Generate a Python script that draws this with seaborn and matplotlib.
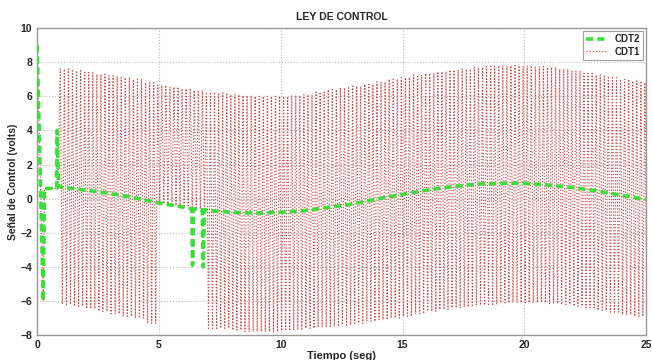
import numpy as np
import matplotlib
matplotlib.use("Agg")
import matplotlib.pyplot as plt
import seaborn as sns

# CDT2 control signal (time, volts)
cdt2_t = [0.0, 0.25, 0.3, 0.8, 0.82, 0.88, 2.0, 3.0, 4.0, 5.0, 6.0, 6.35, 6.38, 6.42,
          6.78, 6.82, 6.86, 7.5, 8.0, 9.0, 10.0, 11.0, 12.0, 13.0, 14.0, 15.0, 16.0,
          17.0, 18.0, 19.0, 20.0, 21.0, 22.0, 23.0, 24.0, 25.0]
cdt2_u = [9.0, -6.0, 0.6, 0.6, 4.0, 0.7, 0.5, 0.3, 0.05, -0.25, -0.5, -0.6, -3.9, -0.6,
          -0.65, -4.0, -0.65, -0.75, -0.8, -0.85, -0.8, -0.7, -0.5, -0.3, 0.0, 0.25, 0.5,
          0.7, 0.85, 0.9, 0.9, 0.8, 0.65, 0.45, 0.2, -0.05]

# CDT1 start-up before chattering
cdt1_start_t = [0.0, 0.25, 0.3, 0.85]
cdt1_start_u = [9.0, -6.0, 0.6, 0.6]

# CDT1 chattering: upper and lower peaks read in 0.5 s windows starting at t = 0.95
cdt1_hi = [7.6, 7.5, 7.4, 7.3, 7.2, 7.1, 7.0, 6.8, 6.65, 6.55, 6.45, 6.35, 6.25, 6.2,
           6.1, 6.05, 6.0, 6.0, 6.0, 6.05, 6.1, 6.25, 6.4, 6.5, 6.6, 6.7, 6.85, 7.0,
           7.1, 7.25, 7.35, 7.45, 7.55, 7.6, 7.7, 7.75, 7.8, 7.8, 7.8, 7.75, 7.7, 7.6,
           7.5, 7.35, 7.25, 7.1, 7.0, 6.9, 6.8]
cdt1_lo = [-6.2, -6.3, -6.45, -6.6, -6.75, -6.9, -7.0, -7.3, -0.3, -0.4, -0.5, -0.6,
           -7.6, -7.6, -7.7, -7.8, -7.8, -7.8, -7.75, -7.7, -7.6, -7.55, -7.5, -7.4,
           -7.3, -7.2, -7.1, -7.0, -6.9, -6.75, -6.6, -6.5, -6.4, -6.35, -6.25, -6.2,
           -6.1, -6.1, -6.1, -6.1, -6.15, -6.2, -6.3, -6.4, -6.55, -6.65, -6.8, -6.9,
           -6.95]

# each 0.5 s window holds a few switchings between its two peaks
n_sw = 3
step = 0.5 / (2 * n_sw)
hi_rep = np.repeat(cdt1_hi, n_sw)
lo_rep = np.repeat(cdt1_lo, n_sw)
sw_t = 0.95 + np.arange(len(hi_rep)) * 2 * step
chat_t = np.column_stack([sw_t, sw_t + step]).ravel()
chat_u = np.column_stack([hi_rep, lo_rep]).ravel()
cdt1_t = np.concatenate([cdt1_start_t, chat_t])
cdt1_u = np.concatenate([cdt1_start_u, chat_u])

sns.set_style("white")
plt.rcParams['font.family'] = ['Liberation Sans', 'DejaVu Sans']

fig = plt.figure(figsize=(6.52, 3.6), dpi=100)
ax = fig.add_axes([0.057, 0.069, 0.934, 0.853])

sns.lineplot(x=cdt2_t, y=cdt2_u, sort=False, estimator=None, ax=ax,
             color='#3ade3a', linestyle=(0, (2.0, 1.1)), linewidth=2.6,
             label='CDT2', zorder=3)
sns.lineplot(x=cdt1_t, y=cdt1_u, sort=False, estimator=None, ax=ax,
             color='#d04545', linestyle=':', linewidth=0.85, label='CDT1', zorder=2)

ax.set_xlim(0, 25)
ax.set_ylim(-8, 10)
ax.set_xticks([0, 5, 10, 15, 20, 25])
ax.set_yticks(list(range(-8, 11, 2)))
ax.grid(True, linestyle=':', color='#bbbbbb', linewidth=0.8)
ax.tick_params(direction='in', labelsize=7.5, length=3, color='#888888')
for lab in ax.get_xticklabels() + ax.get_yticklabels():
    lab.set_fontweight('bold')
for s in ax.spines.values():
    s.set_color('#999999')
    s.set_linewidth(1.0)

ax.set_title('LEY DE CONTROL', fontsize=7.5, fontweight='bold', pad=6)
ax.set_xlabel('Tiempo (seg)', fontsize=8, fontweight='bold', labelpad=1)
ax.set_ylabel('Señal de Control (volts)', fontsize=7.5, fontweight='bold', labelpad=2)

leg = ax.legend(loc='upper right', fontsize=7, frameon=True, fancybox=False,
                handlelength=2.2, borderaxespad=0.3, borderpad=0.3, labelspacing=0.3)
leg.get_frame().set_edgecolor('#888888')
leg.get_frame().set_linewidth(0.8)
for t in leg.get_texts():
    t.set_fontweight('bold')

fig.savefig('out.png', dpi=100)
